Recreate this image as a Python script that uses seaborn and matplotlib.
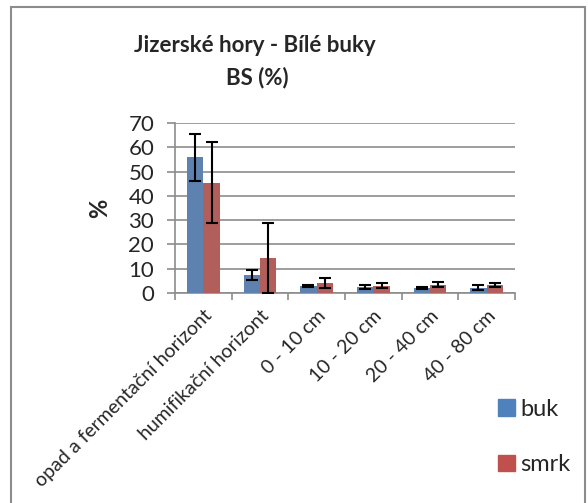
import pandas as pd
import matplotlib
matplotlib.use("Agg")
import matplotlib.pyplot as plt
from matplotlib.patches import Rectangle
import seaborn as sns

# values
categories = ["opad a fermentační horizont", "humifikační horizont",
              "0 - 10 cm", "10 - 20 cm", "20 - 40 cm", "40 - 80 cm"]
series = ["buk", "smrk"]
buk_vals = [55.8, 7.4, 2.9, 2.5, 2.1, 2.2]
buk_err = [9.5, 2.0, 0.3, 1.0, 0.3, 1.0]
smrk_vals = [45.4, 14.4, 4.1, 3.0, 3.4, 3.2]
smrk_err = [16.6, 14.4, 2.2, 1.0, 1.0, 0.9]
colors = ["#4F81BD", "#C0504D"]

df = pd.DataFrame({
    "kategorie": categories * 2,
    "hodnota": buk_vals + smrk_vals,
    "err": buk_err + smrk_err,
    "druh": ["buk"] * len(categories) + ["smrk"] * len(categories),
})

sns.set_style("white")
plt.rcParams["font.family"] = ["Lato", "DejaVu Sans"]

fig = plt.figure(figsize=(5.88, 5.03), dpi=100)
ax = fig.add_axes([175 / 588, 1 - 293 / 503, 340 / 588, 170 / 503])

sns.barplot(data=df, x="kategorie", y="hodnota", hue="druh", hue_order=series,
            palette=colors, width=0.58, gap=0, errorbar=None, ax=ax,
            edgecolor="none", legend=False, zorder=3)

# error bars on top of each bar
for cont, errs in zip(ax.containers, [buk_err, smrk_err]):
    xs = [p.get_x() + p.get_width() / 2 for p in cont.patches]
    hs = [p.get_height() for p in cont.patches]
    ax.errorbar(xs, hs, yerr=errs, fmt="none", ecolor="black", elinewidth=1.5,
                capsize=4, capthick=1.5, zorder=4)

ax.set_ylim(0, 70)
ax.set_xlim(-0.5, len(categories) - 0.5)
ax.set_yticks(range(0, 71, 10))
ax.yaxis.grid(True, color="#8c8c8c", linewidth=1.2, zorder=0)
ax.set_axisbelow(True)
for s in ["top", "right"]:
    ax.spines[s].set_visible(False)
for s in ["left", "bottom"]:
    ax.spines[s].set_color("#8c8c8c")
    ax.spines[s].set_linewidth(1.2)

ax.tick_params(axis="y", which="major", length=6, width=1.2, color="#8c8c8c",
               labelsize=16, pad=9, left=True)
ax.set_xticks(range(len(categories)))
ax.set_xticklabels(categories, rotation=45, ha="right", rotation_mode="anchor",
                   fontsize=14)
ax.tick_params(axis="x", which="major", length=0, pad=10)
ax.set_xticks([i - 0.5 for i in range(len(categories) + 1)], minor=True)
ax.tick_params(axis="x", which="minor", length=5, width=1.2, color="#8c8c8c",
               bottom=True)
ax.set_xlabel("")
ax.set_ylabel("%", fontsize=17, fontweight="bold", labelpad=12)

fig.text(255 / 588, 1 - 45 / 503, "Jizerské hory - Bílé buky", fontsize=16,
         fontweight="bold", ha="center", va="center")
fig.text(257 / 588, 1 - 78 / 503, "BS (%)", fontsize=16, fontweight="bold",
         ha="center", va="center")

handles = [Rectangle((0, 0), 1, 1, color=c) for c in colors]
fig.legend(handles, series, loc="upper left",
           bbox_to_anchor=(498 / 588, 1 - 399 / 503), frameon=False,
           borderpad=0, borderaxespad=0, fontsize=17, handlelength=0.7,
           handleheight=0.7, handletextpad=0.25, labelspacing=1.45)

fig.patches.append(Rectangle((11 / 588, -0.05), 574 / 588, 1.05 - 7 / 503,
                             transform=fig.transFigure, fill=False,
                             edgecolor="#8c8c8c", linewidth=1.5))

fig.savefig("out.png", dpi=100)
